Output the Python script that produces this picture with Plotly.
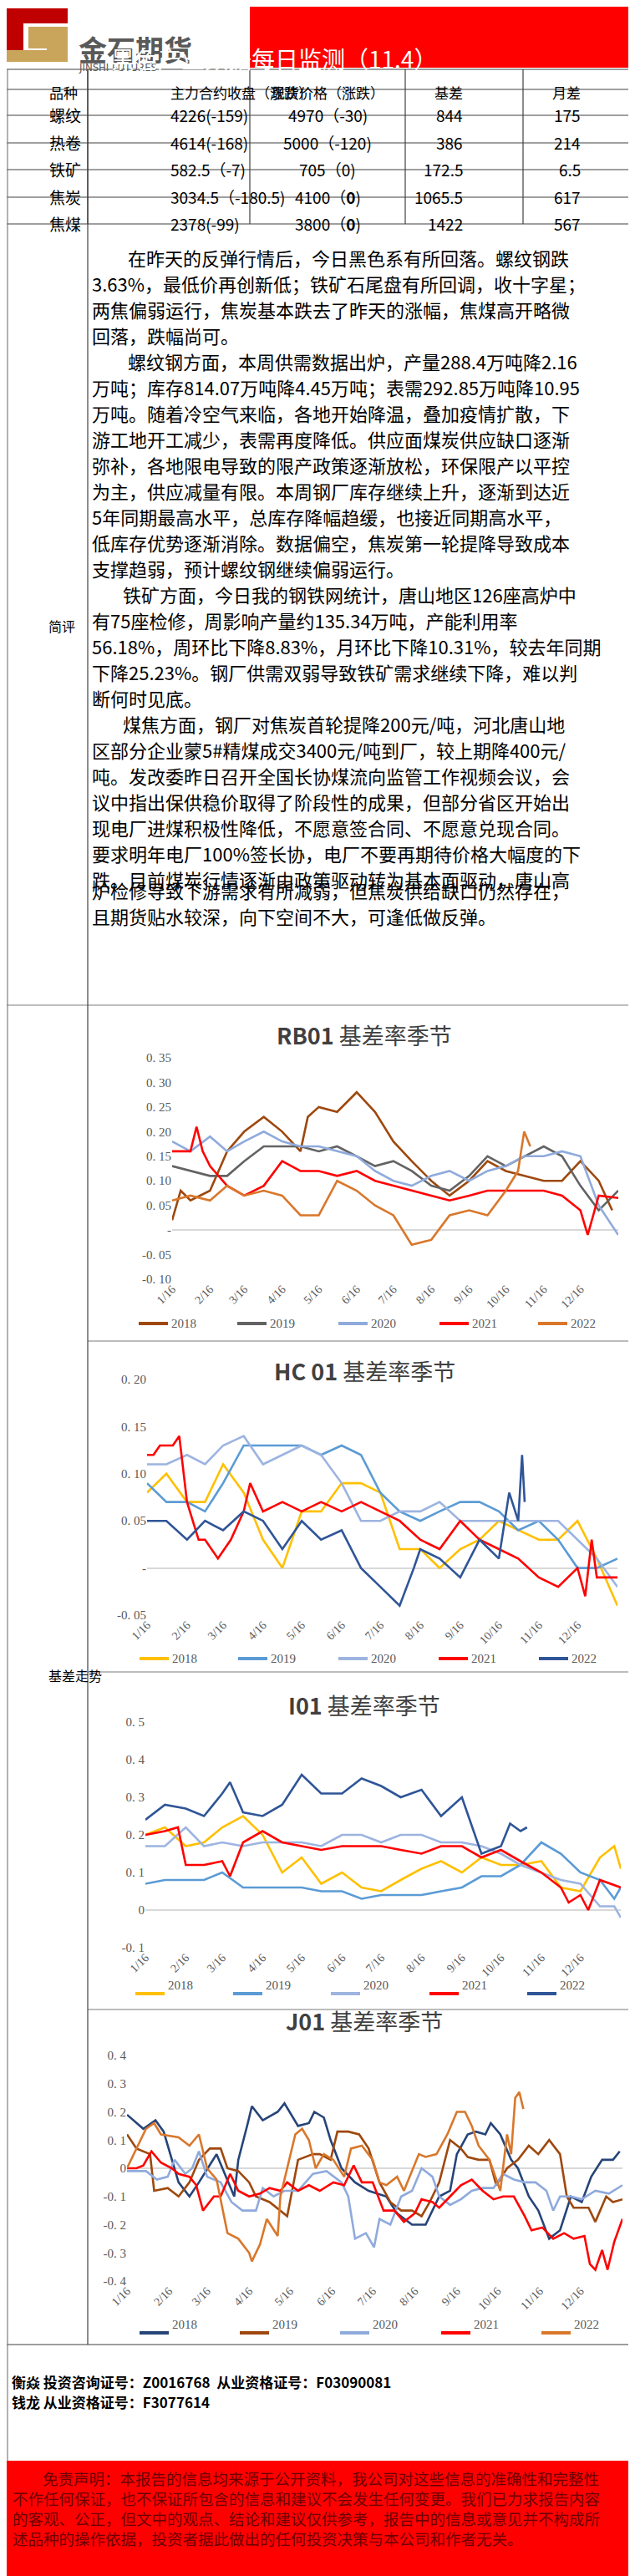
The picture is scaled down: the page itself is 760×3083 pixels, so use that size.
import plotly.graph_objects as go

W, H = 760, 3083
def px(x): return x / W
def py(y): return 1 - y / H

# ---------------- data ----------------
table_header = ["品种", "主力合约收盘（涨跌）", "现货价格（涨跌）", "基差", "月差"]
varieties = ["螺纹", "热卷", "铁矿", "焦炭", "焦煤"]
main_close = ["4226(-159)", "4614(-168)", "582.5（-7)", "3034.5（-180.5)", "2378(-99)"]
spot_price = ["4970（-30)", "5000（-120)", "705（0)", "4100（<b>0</b>)", "3800（<b>0</b>)"]
basis = ["844", "386", "172.5", "1065.5", "1422"]
month_spread = ["175", "214", "6.5", "617", "567"]

tick_days = [15, 46, 74, 105, 135, 166, 196, 227, 258, 288, 319, 349]
tick_labels = ["1/16", "2/16", "3/16", "4/16", "5/16", "6/16", "7/16", "8/16", "9/16", "10/16", "11/16", "12/16"]
years = ["2018", "2019", "2020", "2021", "2022"]

G = [15, 30, 46, 60, 74, 90, 105, 120, 135, 150, 166, 181, 196, 211, 227, 242, 258, 273, 288, 303, 319, 334, 349, 364, 380]

# RB01
rb_x = {
    "2018": [15, 22, 30, 46, 60, 74, 90, 105, 120, 126, 135, 150, 166, 181, 196, 211, 227, 242, 258, 273, 288, 303, 319, 334, 349, 364, 375],
    "2019": G,
    "2020": G,
    "2021": [15, 30, 35, 40, 46, 60, 74, 90, 105, 120, 135, 150, 166, 181, 196, 211, 227, 242, 258, 273, 288, 303, 319, 334, 349, 355, 364, 380],
    "2022": [15, 30, 46, 60, 74, 90, 105, 120, 135, 150, 166, 181, 196, 211, 227, 242, 258, 273, 288, 298, 303, 308],
}
rb_y = {
    "2018": [0.02, 0.08, 0.06, 0.08, 0.16, 0.20, 0.23, 0.20, 0.16, 0.23, 0.25, 0.24, 0.28, 0.24, 0.18, 0.14, 0.10, 0.07, 0.10, 0.14, 0.12, 0.11, 0.10, 0.10, 0.14, 0.10, 0.04],
    "2019": [0.13, 0.12, 0.11, 0.11, 0.14, 0.17, 0.17, 0.17, 0.16, 0.17, 0.15, 0.13, 0.14, 0.12, 0.09, 0.08, 0.11, 0.15, 0.13, 0.15, 0.17, 0.15, 0.09, 0.04, 0.08],
    "2020": [0.18, 0.16, 0.19, 0.16, 0.18, 0.20, 0.18, 0.17, 0.17, 0.16, 0.15, 0.12, 0.10, 0.09, 0.11, 0.12, 0.10, 0.12, 0.13, 0.15, 0.15, 0.16, 0.15, 0.05, -0.01],
    "2021": [0.16, 0.16, 0.21, 0.16, 0.13, 0.09, 0.07, 0.09, 0.14, 0.12, 0.12, 0.11, 0.12, 0.10, 0.09, 0.08, 0.07, 0.06, 0.07, 0.08, 0.08, 0.08, 0.08, 0.07, 0.04, -0.01, 0.07, 0.065],
    "2022": [0.06, 0.07, 0.06, 0.09, 0.07, 0.08, 0.07, 0.03, 0.03, 0.10, 0.08, 0.05, 0.03, -0.03, -0.02, 0.03, 0.04, 0.03, 0.08, 0.12, 0.20, 0.17],
}

# HC01
hc_x = {
    "2018": G, "2019": G, "2020": G,
    "2021": [15, 20, 25, 35, 40, 46, 55, 60, 70, 80, 90, 95, 105, 120, 135, 150, 166, 181, 196, 211, 227, 242, 258, 273, 288, 303, 319, 334, 349, 355, 360, 364, 375, 380],
    "2022": [15, 30, 46, 60, 74, 90, 105, 120, 135, 150, 166, 181, 196, 211, 222, 227, 242, 258, 273, 288, 296, 303, 306, 308],
}
hc_y = {
    "2018": [0.08, 0.10, 0.07, 0.07, 0.11, 0.08, 0.03, 0.00, 0.06, 0.06, 0.09, 0.09, 0.08, 0.02, 0.02, 0.00, 0.02, 0.03, 0.05, 0.04, 0.03, 0.03, 0.05, 0.01, -0.04],
    "2019": [0.09, 0.07, 0.07, 0.06, 0.09, 0.13, 0.13, 0.13, 0.13, 0.12, 0.13, 0.12, 0.08, 0.06, 0.05, 0.06, 0.07, 0.07, 0.06, 0.04, 0.05, 0.03, 0.00, 0.00, 0.01],
    "2020": [0.11, 0.11, 0.12, 0.11, 0.13, 0.14, 0.11, 0.12, 0.13, 0.12, 0.09, 0.05, 0.05, 0.06, 0.06, 0.07, 0.05, 0.05, 0.05, 0.05, 0.05, 0.05, 0.03, 0.01, -0.02],
    "2021": [0.12, 0.12, 0.13, 0.13, 0.14, 0.07, 0.03, 0.03, 0.01, 0.03, 0.06, 0.09, 0.06, 0.07, 0.06, 0.07, 0.06, 0.07, 0.06, 0.05, 0.03, 0.02, 0.05, 0.03, 0.02, 0.01, -0.01, -0.02, 0.00, -0.03, 0.03, -0.01, -0.01, -0.01],
    "2022": [0.05, 0.05, 0.03, 0.05, 0.04, 0.06, 0.05, 0.02, 0.05, 0.03, 0.04, 0.00, -0.02, -0.04, 0.00, 0.02, 0.01, -0.01, 0.03, 0.01, 0.08, 0.05, 0.12, 0.07],
}

# I01
IG = [15, 30, 46, 60, 74, 90, 105, 120, 135, 150, 166, 181, 196, 211, 227, 242, 258, 273, 288, 303, 319, 334, 349, 364, 375, 380]
i_x = {
    "2018": IG, "2019": IG, "2020": IG,
    "2021": [15, 30, 40, 46, 60, 74, 80, 90, 105, 120, 135, 150, 166, 181, 196, 211, 227, 242, 258, 273, 288, 303, 319, 334, 340, 349, 355, 364, 380],
    "2022": [15, 30, 46, 60, 74, 80, 90, 105, 120, 135, 150, 166, 181, 196, 211, 227, 242, 258, 263, 273, 288, 295, 303, 308],
}
i_y = {
    "2018": [0.20, 0.22, 0.17, 0.18, 0.22, 0.25, 0.20, 0.10, 0.14, 0.07, 0.10, 0.06, 0.05, 0.08, 0.11, 0.13, 0.10, 0.14, 0.12, 0.12, 0.13, 0.06, 0.05, 0.14, 0.17, 0.11],
    "2019": [0.07, 0.08, 0.08, 0.08, 0.10, 0.06, 0.06, 0.06, 0.06, 0.05, 0.05, 0.03, 0.04, 0.04, 0.04, 0.05, 0.06, 0.09, 0.09, 0.12, 0.18, 0.15, 0.10, 0.08, 0.03, 0.06],
    "2020": [0.17, 0.17, 0.22, 0.17, 0.18, 0.17, 0.18, 0.18, 0.18, 0.17, 0.20, 0.20, 0.18, 0.20, 0.20, 0.18, 0.18, 0.17, 0.15, 0.12, 0.10, 0.08, 0.07, 0.01, 0.01, -0.02],
    "2021": [0.20, 0.21, 0.22, 0.12, 0.12, 0.13, 0.09, 0.18, 0.21, 0.18, 0.17, 0.16, 0.17, 0.17, 0.17, 0.16, 0.15, 0.17, 0.17, 0.14, 0.16, 0.13, 0.10, 0.06, 0.02, 0.04, 0.00, 0.08, 0.06],
    "2022": [0.24, 0.28, 0.27, 0.25, 0.31, 0.34, 0.26, 0.25, 0.28, 0.36, 0.31, 0.31, 0.35, 0.33, 0.30, 0.32, 0.25, 0.30, 0.25, 0.15, 0.17, 0.23, 0.21, 0.22],
}

# J01
j_x = {
    "2018": [15, 27, 36, 42, 53, 61, 68, 81, 94, 97, 104, 107, 115, 126, 131, 141, 149, 153, 160, 165, 173, 183, 193, 206, 214, 225, 235, 245, 253, 258, 266, 272, 279, 283, 290, 298, 303, 311, 318, 326, 334, 342, 350, 357, 365, 373, 378],
    "2019": [15, 22, 32, 35, 45, 53, 61, 68, 76, 84, 89, 97, 105, 110, 120, 128, 133, 141, 152, 157, 165, 170, 178, 186, 193, 201, 209, 217, 225, 232, 238, 245, 253, 261, 266, 274, 282, 287, 295, 303, 311, 318, 326, 334, 339, 344, 355, 360, 368, 373, 380],
    "2020": [15, 29, 37, 45, 50, 58, 63, 68, 74, 84, 92, 100, 110, 115, 123, 131, 141, 152, 162, 173, 178, 183, 191, 197, 201, 209, 217, 225, 232, 240, 245, 253, 261, 269, 277, 285, 292, 300, 308, 316, 324, 329, 334, 342, 350, 360, 370, 380],
    "2021": [15, 22, 27, 33, 40, 48, 53, 61, 66, 71, 79, 84, 91, 97, 105, 113, 120, 128, 133, 141, 149, 157, 167, 175, 182, 188, 196, 204, 212, 219, 227, 232, 240, 245, 253, 261, 269, 277, 285, 292, 300, 308, 313, 321, 329, 337, 344, 352, 356, 360, 365, 369, 374, 380],
    "2022": [15, 20, 29, 35, 40, 53, 61, 68, 74, 81, 89, 97, 105, 107, 113, 118, 126, 128, 133, 139, 144, 149, 154, 160, 167, 175, 180, 188, 196, 201, 206, 214, 219, 230, 235, 243, 251, 258, 264, 269, 274, 282, 290, 295, 298, 301, 304, 307],
}
j_y = {
    "2018": [0.19, 0.14, 0.17, 0.13, -0.05, -0.10, -0.05, 0.05, -0.10, 0.03, 0.16, 0.22, 0.17, 0.20, 0.23, 0.15, 0.16, 0.20, 0.18, 0.10, 0.00, -0.05, -0.08, -0.10, -0.16, -0.20, -0.20, -0.10, -0.08, 0.05, 0.12, 0.13, 0.12, 0.16, 0.12, 0.03, 0.00, -0.10, -0.15, -0.25, -0.22, -0.10, -0.12, -0.03, 0.03, 0.03, 0.06],
    "2019": [0.12, 0.07, 0.05, -0.08, -0.07, -0.10, -0.05, 0.03, 0.07, 0.07, 0.00, -0.01, -0.05, -0.10, -0.12, -0.15, -0.17, 0.03, 0.05, 0.05, 0.03, 0.13, 0.13, 0.12, 0.07, -0.05, -0.12, -0.15, -0.15, -0.17, -0.12, -0.05, 0.10, 0.07, 0.04, 0.03, 0.03, -0.06, 0.00, 0.03, 0.08, 0.05, 0.10, 0.05, -0.10, -0.14, -0.14, -0.19, -0.10, -0.12, -0.11],
    "2020": [-0.01, -0.01, -0.04, -0.03, 0.03, -0.02, 0.00, 0.06, -0.03, -0.05, -0.12, -0.15, -0.15, -0.07, -0.10, -0.08, -0.08, -0.02, -0.01, -0.05, -0.10, -0.25, -0.23, -0.28, -0.18, -0.20, -0.10, -0.08, 0.00, -0.03, -0.10, -0.13, -0.11, -0.08, -0.07, -0.07, -0.02, -0.04, -0.05, -0.05, -0.08, -0.15, -0.10, -0.10, -0.11, -0.08, -0.09, -0.06],
    "2021": [0.00, 0.00, 0.01, 0.06, 0.02, 0.00, -0.02, -0.03, -0.06, -0.15, -0.10, -0.10, -0.02, -0.08, -0.10, -0.09, -0.07, -0.08, -0.05, -0.08, -0.06, -0.08, -0.05, -0.06, 0.01, -0.05, -0.05, -0.15, -0.15, -0.19, -0.16, -0.11, -0.12, -0.14, -0.10, -0.06, -0.04, -0.08, -0.11, -0.10, -0.10, -0.17, -0.22, -0.21, -0.25, -0.23, -0.25, -0.24, -0.34, -0.36, -0.29, -0.36, -0.26, -0.18],
    "2022": [0.00, 0.05, 0.14, 0.16, 0.12, 0.11, 0.08, 0.12, 0.00, -0.04, -0.23, -0.25, -0.30, -0.33, -0.27, -0.18, -0.24, -0.10, 0.00, 0.12, 0.14, 0.10, 0.00, 0.05, 0.03, -0.03, 0.07, 0.08, 0.03, -0.05, -0.06, -0.03, -0.08, 0.05, 0.04, 0.05, 0.12, 0.20, 0.20, 0.15, 0.08, 0.03, -0.08, 0.12, 0.05, 0.25, 0.27, 0.21],
}

comment_lines = [
    "在昨天的反弹行情后，今日黑色系有所回落。螺纹钢跌",
    "3.63%，最低价再创新低；铁矿石尾盘有所回调，收十字星；",
    "两焦偏弱运行，焦炭基本跌去了昨天的涨幅，焦煤高开略微",
    "回落，跌幅尚可。",
    "螺纹钢方面，本周供需数据出炉，产量288.4万吨降2.16",
    "万吨；库存814.07万吨降4.45万吨；表需292.85万吨降10.95",
    "万吨。随着冷空气来临，各地开始降温，叠加疫情扩散，下",
    "游工地开工减少，表需再度降低。供应面煤炭供应缺口逐渐",
    "弥补，各地限电导致的限产政策逐渐放松，环保限产以平控",
    "为主，供应减量有限。本周钢厂库存继续上升，逐渐到达近",
    "5年同期最高水平，总库存降幅趋缓，也接近同期高水平，",
    "低库存优势逐渐消除。数据偏空，焦炭第一轮提降导致成本",
    "支撑趋弱，预计螺纹钢继续偏弱运行。",
    "铁矿方面，今日我的钢铁网统计，唐山地区126座高炉中",
    "有75座检修，周影响产量约135.34万吨，产能利用率",
    "56.18%，周环比下降8.83%，月环比下降10.31%，较去年同期",
    "下降25.23%。钢厂供需双弱导致铁矿需求继续下降，难以判",
    "断何时见底。",
    "煤焦方面，钢厂对焦炭首轮提降200元/吨，河北唐山地",
    "区部分企业蒙5#精煤成交3400元/吨到厂，较上期降400元/",
    "吨。发改委昨日召开全国长协煤流向监管工作视频会议，会",
    "议中指出保供稳价取得了阶段性的成果，但部分省区开始出",
    "现电厂进煤积极性降低，不愿意签合同、不愿意兑现合同。",
    "要求明年电厂100%签长协，电厂不要再期待价格大幅度的下",
    "跌。目前煤炭行情逐渐由政策驱动转为基本面驱动，唐山高",
    "炉检修导致下游需求有所减弱，但焦炭供给缺口仍然存在，",
    "且期货贴水较深，向下空间不大，可逢低做反弹。",
]
indent_lines = {0: 143, 4: 143, 13: 137, 18: 137}

disclaimer = [
    "免责声明：本报告的信息均来源于公开资料，我公司对这些信息的准确性和完整性",
    "不作任何保证，也不保证所包含的信息和建议不会发生任何变更。我们已力求报告内容",
    "的客观、公正，但文中的观点、结论和建议仅供参考，报告中的信息或意见并不构成所",
    "述品种的操作依据，投资者据此做出的任何投资决策与本公司和作者无关。",
]

# ---------------- figure ----------------
fig = go.Figure()
CJK = "Noto Sans CJK SC"
SERIF = "Liberation Serif"

charts = [
    dict(title="<b>RB01</b> 基差率季节", xd=(198, 732), yd=(1258, 1523), yr=(-0.10, 0.35),
         yt=[-0.10, -0.05, 0, 0.05, 0.10, 0.15, 0.20, 0.25, 0.30, 0.35],
         ytt=["-0. 10", "-0. 05", "-", "0. 05", "0. 10", "0. 15", "0. 20", "0. 25", "0. 30", "0. 35"],
         X=rb_x, Y=rb_y, colors=["#9E480E", "#636363", "#8FAADC", "#FF0000", "#D9772B"],
         title_y=1230, leg_y=1576, leg_x=[158, 276, 397, 518, 636]),
    dict(title="<b>HC 01</b> 基差率季节", xd=(168, 731), yd=(1643, 1925), yr=(-0.05, 0.20),
         yt=[-0.05, 0, 0.05, 0.10, 0.15, 0.20], ytt=["-0. 05", "-", "0. 05", "0. 10", "0. 15", "0. 20"],
         X=hc_x, Y=hc_y, colors=["#FFC000", "#5B9BD5", "#9DB4E0", "#FF0000", "#2F5597"],
         title_y=1632, leg_y=1977, leg_x=[159, 277, 397, 517, 637]),
    dict(title="<b>I01</b> 基差率季节", xd=(166, 735), yd=(2053, 2323), yr=(-0.1, 0.5),
         yt=[-0.1, 0, 0.1, 0.2, 0.3, 0.4, 0.5], ytt=["-0. 1", "0", "0. 1", "0. 2", "0. 3", "0. 4", "0. 5"],
         X=i_x, Y=i_y, colors=["#FFC000", "#5B9BD5", "#9DB4E0", "#FF0000", "#2F5597"],
         title_y=2032, leg_y=2378, leg_x=[154, 271, 388, 506, 623]),
    dict(title="<b>J01</b> 基差率季节", xd=(144, 737), yd=(2452, 2722), yr=(-0.4, 0.4),
         yt=[-0.4, -0.3, -0.2, -0.1, 0, 0.1, 0.2, 0.3, 0.4],
         ytt=["-0. 4", "-0. 3", "-0. 2", "-0. 1", "0", "0. 1", "0. 2", "0. 3", "0. 4"],
         X=j_x, Y=j_y, colors=["#264478", "#9E480E", "#8FAADC", "#FF0000", "#D9772B"],
         title_y=2432, leg_y=2784, leg_x=[159, 279, 399, 520, 640]),
]

annotations = []
shapes = []
layout_axes = {}

def line(x0, y0, x1, y1, color="#7F7F7F", w=1.2, layer="above"):
    shapes.append(dict(type="line", xref="paper", yref="paper", x0=px(x0), y0=py(y0), x1=px(x1), y1=py(y1),
                       line=dict(color=color, width=w), layer=layer))
def rect(x0, y0, x1, y1, fill):
    shapes.append(dict(type="rect", xref="paper", yref="paper", x0=px(x0), y0=py(y0), x1=px(x1), y1=py(y1),
                       fillcolor=fill, line=dict(width=0), layer="below"))

for i, c in enumerate(charts):
    n = i + 1
    xa = "x" if n == 1 else f"x{n}"
    ya = "y" if n == 1 else f"y{n}"
    for k, yr in enumerate(years):
        fig.add_trace(go.Scatter(x=c["X"][yr], y=c["Y"][yr], mode="lines", name=yr,
                                 line=dict(color=c["colors"][k], width=2.6),
                                 xaxis=xa, yaxis=ya, showlegend=False, hoverinfo="skip"))
        lx = c["leg_x"][k]
        line(lx, c["leg_y"], lx + 35, c["leg_y"], c["colors"][k], 4)
        annotations.append(dict(x=px(lx + 37), y=py(c["leg_y"]), xref="paper", yref="paper", xanchor="left",
                                text=yr, showarrow=False, font=dict(family=SERIF, size=15, color="#595959")))
    layout_axes[("xaxis" if n == 1 else f"xaxis{n}")] = dict(
        domain=[px(c["xd"][0]), px(c["xd"][1])], range=[15, 380], anchor=ya, automargin=False,
        tickvals=tick_days, ticktext=tick_labels, tickangle=-45, showgrid=False, zeroline=False,
        showline=False, ticks="", tickfont=dict(family=SERIF, size=14, color="#595959"))
    layout_axes[("yaxis" if n == 1 else f"yaxis{n}")] = dict(
        domain=[py(c["yd"][1]), py(c["yd"][0])], range=list(c["yr"]), anchor=xa, automargin=False,
        tickvals=c["yt"], ticktext=c["ytt"], showgrid=False, zeroline=True, zerolinecolor="#D9D9D9",
        zerolinewidth=1.5, showline=False, ticks="", tickfont=dict(family=SERIF, size=15, color="#595959"))
    annotations.append(dict(x=px(428), y=py(c["title_y"]), xref="paper", yref="paper", text=c["title"],
                            showarrow=False, font=dict(family=CJK, size=27, color="#404040")))

# header / logo
rect(291, 0, 760, 73, "#FF0000")
rect(0, 2, 20, 66, "#C00000")
rect(0, 2, 73, 20, "#C00000")
rect(26, 24, 73, 50, "#C9A55C")
rect(48, 50, 73, 66, "#C9A55C")
rect(0, 52, 55, 66, "#C9A55C")
annotations.append(dict(x=px(84), y=py(24), xref="paper", yref="paper", xanchor="left", text="<b>金石期货</b>",
                        showarrow=False, font=dict(family=CJK, size=34, color="#595959")))
annotations.append(dict(x=px(84), y=py(63), xref="paper", yref="paper", xanchor="left", text="JINSHI FUTURES",
                        showarrow=False, font=dict(family="DejaVu Sans Condensed", size=13, color="#595959")))
annotations.append(dict(x=px(517), y=py(40), xref="paper", yref="paper", text="黑色产业数据每日监测（11.4）",
                        showarrow=False, font=dict(family=CJK, size=28, color="white")))

# table
col_edges = [0, 97, 291, 477, 618, 760]
row_edges = [75, 99, 130, 163, 195, 228, 260]
for yv in row_edges:
    line(0, yv, 760, yv, "#404040", 1.2)
for xv in col_edges[1:-1]:
    line(xv, 75, xv, 260, "#404040", 1.2)
cols = [varieties, main_close, spot_price, basis, month_spread]
for ci in range(5):
    cx = (col_edges[ci] + col_edges[ci + 1]) / 2
    annotations.append(dict(x=px(cx), y=py(88), xref="paper", yref="paper", text=table_header[ci], showarrow=False,
                            font=dict(family=CJK, size=17, color="#000")))
    for ri in range(5):
        cy = (row_edges[ri + 1] + row_edges[ri + 2]) / 2
        annotations.append(dict(x=px(cx), y=py(cy), xref="paper", yref="paper", text=cols[ci][ri], showarrow=False,
                                font=dict(family=CJK, size=19, color="#000")))

# comment section
annotations.append(dict(x=px(48), y=py(727), xref="paper", yref="paper", text="简评", showarrow=False,
                        font=dict(family=CJK, size=16, color="#000")))
for li, t in enumerate(comment_lines):
    x0 = indent_lines.get(li, 100)
    annotations.append(dict(x=px(x0), y=py(282 + 31 * li), xref="paper", yref="paper", text=t, showarrow=False,
                            xanchor="left", font=dict(family=CJK, size=22, color="#000")))

# chart section frame
line(0, 1195, 760, 1195, "#7F7F7F", 1.2)
for yv in [1597, 1993, 2397]:
    line(97, yv, 760, yv, "#A6A6A6", 1.5)
line(0, 2798, 760, 2798, "#404040", 1.2)
line(97, 75, 97, 2798, "#404040", 1.2)
line(759, 75, 759, 2937, "#7F7F7F", 1.2)
line(1, 75, 1, 2937, "#7F7F7F", 1.2)
annotations.append(dict(x=px(48), y=py(1997), xref="paper", yref="paper", text="基差走势", showarrow=False,
                        font=dict(family=CJK, size=16, color="#000")))

# signatures
annotations.append(dict(x=px(4), y=py(2857), xref="paper", yref="paper", xanchor="left", showarrow=False,
                        text="<b>衡焱 投资咨询证号：Z0016768  从业资格证号：F03090081</b>",
                        font=dict(family=CJK, size=17, color="#000")))
annotations.append(dict(x=px(4), y=py(2881), xref="paper", yref="paper", xanchor="left", showarrow=False,
                        text="<b>钱龙 从业资格证号：F3077614</b>", font=dict(family=CJK, size=17, color="#000")))

# disclaimer
rect(0, 2937, 760, 3083, "#FF0000")
for k, t in enumerate(disclaimer):
    annotations.append(dict(x=px(41 if k == 0 else 5), y=py(2973 + 24 * k), xref="paper", yref="paper",
                            xanchor="left", showarrow=False, text=t,
                            font=dict(family=CJK, size=18.5, color="#6B0000")))

fig.update_layout(template="none", width=W, height=H, margin=dict(l=0, r=0, t=0, b=0, pad=0, autoexpand=False),
                  paper_bgcolor="white", plot_bgcolor="rgba(0,0,0,0)", showlegend=False,
                  shapes=shapes, annotations=annotations, **layout_axes)
fig.write_html("out.html", config={"displayModeBar": False})
